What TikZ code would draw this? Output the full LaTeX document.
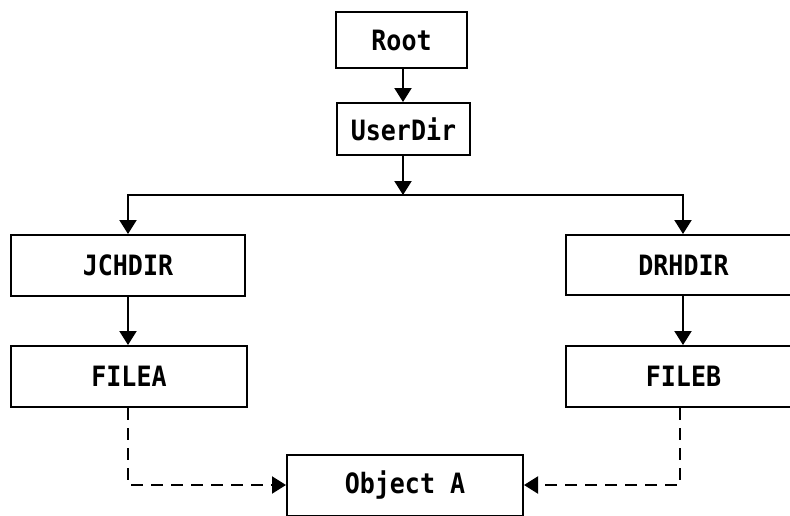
\documentclass[tikz,border=0pt]{standalone}
\usepackage{fontspec}
\setmonofont{DejaVu Sans Mono}
\usetikzlibrary{arrows.meta}
\newcommand{\tall}[1]{\scalebox{1}[1.12]{#1}}
\begin{document}
\begin{tikzpicture}[x=1pt,y=-1pt,
  box/.style={draw=black, line width=2pt, fill=white, inner sep=0pt,
    font=\fontsize{25}{28}\selectfont\ttfamily\bfseries},
  conn/.style={line width=2pt, -{Triangle[width=17pt,length=14pt]}},
  dconn/.style={conn, dash pattern=on 12pt off 8pt}]
\useasboundingbox (0,0) rectangle (790,515);
\clip (0,0) rectangle (790,515);
\fill[white] (0,0) rectangle (790,515);
\node[box, minimum width=131pt, minimum height=56pt] (root) at (401.5,40) {\tall{Root}};
\node[box, minimum width=133pt, minimum height=52pt] (user) at (403.5,129) {\tall{UserDir}};
\node[box, minimum width=234pt, minimum height=61pt] (jch) at (128,265.5) {\tall{JCHDIR}};
\node[box, minimum width=236pt, minimum height=61pt] (filea) at (129,376.5) {\tall{FILEA}};
\node[box, minimum width=235pt, minimum height=60pt] (drh) at (683.5,265) {\tall{DRHDIR}};
\node[box, minimum width=235pt, minimum height=61pt] (fileb) at (683.5,376.5) {\tall{FILEB}};
\node[box, minimum width=236pt, minimum height=61pt] (obj) at (405,485.5) {\tall{Object A}};
\coordinate (junc) at (403,195);
\coordinate (jl) at (128,195);
\coordinate (jr) at (683,195);
\coordinate (dl) at (128,485);
\coordinate (dr) at (680,485);
\draw[conn] (root.south -| junc) -- (user.north -| junc);
\draw[conn] (user.south -| junc) -- (junc);
\draw[line width=2pt, line cap=rect] (jl) -- (jr);
\draw[conn] (jl) -- (jch.north -| jl);
\draw[conn] (jr) -- (drh.north -| jr);
\draw[conn] (jch.south -| jl) -- (filea.north -| jl);
\draw[conn] (drh.south -| jr) -- (fileb.north -| jr);
\draw[dconn] (filea.south -| dl) -- (dl) -- (obj.west |- dl);
\draw[dconn] (fileb.south -| dr) -- (dr) -- (obj.east |- dr);
\end{tikzpicture}
\end{document}
